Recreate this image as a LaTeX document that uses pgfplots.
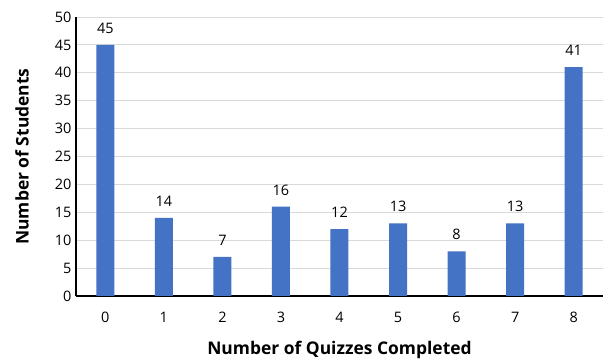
\documentclass[border=0pt]{standalone}
\usepackage{pgfplots}
\pgfplotsset{compat=1.18}
\usepackage{fontspec}
\setmainfont{Open Sans}
\definecolor{barblue}{HTML}{4472C4}
\definecolor{gridgray}{HTML}{D9D9D9}
\begin{document}
\begin{tikzpicture}
\begin{axis}[
  at={(0,0)}, anchor=south west,
  scale only axis,
  width=527bp, height=279bp,
  xmin=-0.5, xmax=8.5,
  ymin=0, ymax=50,
  ytick={0,5,...,50},
  xtick={0,...,8},
  axis y line*=left,
  axis x line*=bottom,
  axis line style={black, line width=1.2pt, -},
  tick style={draw=none},
  ymajorgrids,
  grid style={gridgray, line width=0.8pt},
  /pgf/number format/assume math mode=true,
  ticklabel style={font=\fontsize{14.5}{17}\selectfont, black},
  yticklabel style={xshift=-1bp},
  xticklabel style={yshift=-8bp},
  xlabel={\textbf{Number of Quizzes Completed}},
  ylabel={\textbf{Number of Students}},
  label style={font=\fontsize{17.5}{20}\selectfont},
  xlabel style={at={(axis description cs:0.5,0)}, anchor=center, yshift=-54bp},
  ylabel style={at={(axis description cs:0,0.5)}, anchor=center, yshift=54bp},
  ybar, bar width=18bp,
  nodes near coords,
  nodes near coords style={font=\fontsize{14.5}{17}\selectfont, black, yshift=8bp},
]
\addplot[fill=barblue, draw=none] coordinates {
  (0,45) (1,14) (2,7) (3,16) (4,12) (5,13) (6,8) (7,13) (8,41)
};
\end{axis}
\pgfresetboundingbox
\useasboundingbox (-76bp,-64bp) rectangle (527bp,296bp);
\end{tikzpicture}
\end{document}
